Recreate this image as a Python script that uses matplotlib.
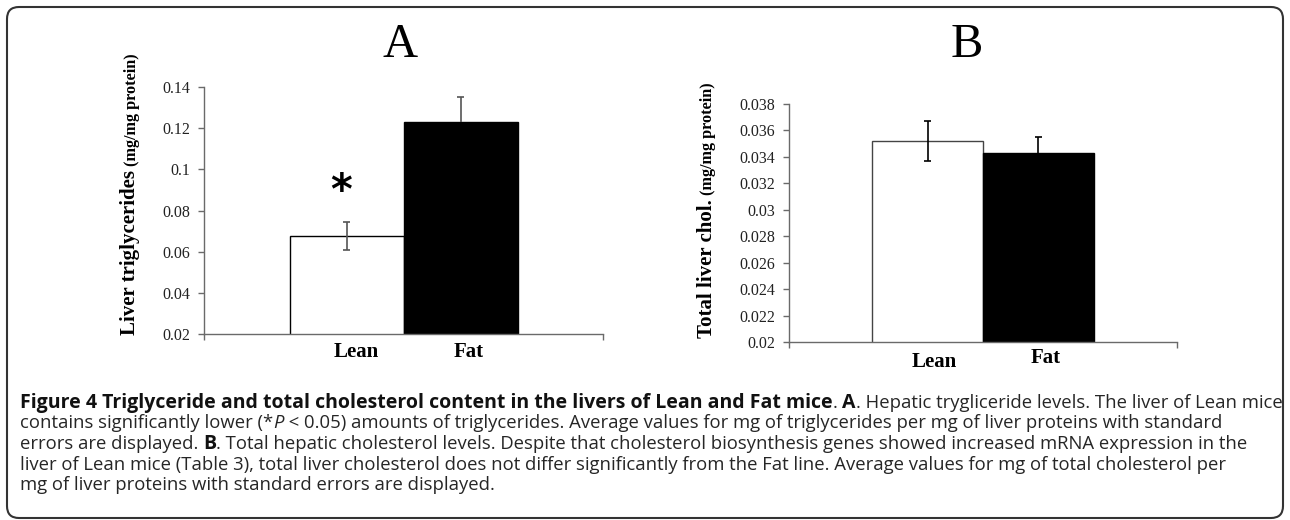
import matplotlib
matplotlib.use("Agg")
import matplotlib.pyplot as plt
from matplotlib.patches import FancyBboxPatch
from matplotlib.transforms import IdentityTransform
from matplotlib.ticker import FuncFormatter

W, H = 1290, 520

# data
groups = ["Lean", "Fat"]
trig_mean = [0.0676, 0.1232]
trig_err_low = [0.0066, 0.0]
trig_err_high = [0.0066, 0.0119]
chol_mean = [0.0352, 0.0343]
chol_err_low = [0.0015, 0.0]
chol_err_high = [0.0015, 0.0012]

trig_ticks = [0.02, 0.04, 0.06, 0.08, 0.10, 0.12, 0.14]
chol_ticks = [0.020, 0.022, 0.024, 0.026, 0.028, 0.030, 0.032, 0.034, 0.036, 0.038]

caption_lines = [
    [("Figure 4 Triglyceride and total cholesterol content in the livers of Lean and Fat mice", "bold"),
     (". ", "normal"), ("A", "bold"), (". Hepatic trygliceride levels. The liver of Lean mice", "normal")],
    [("contains significantly lower (*", "normal"), ("P", "italic"),
     (" < 0.05) amounts of triglycerides. Average values for mg of triglycerides per mg of liver proteins with standard", "normal")],
    [("errors are displayed. ", "normal"), ("B", "bold"),
     (". Total hepatic cholesterol levels. Despite that cholesterol biosynthesis genes showed increased mRNA expression in the", "normal")],
    [("liver of Lean mice (Table 3), total liver cholesterol does not differ significantly from the Fat line. Average values for mg of total cholesterol per", "normal")],
    [("mg of liver proteins with standard errors are displayed.", "normal")],
]
# right end of each caption line in the reference (px)
caption_ends = [1283, 1208, 1244, 1247, 497]

serif = "Liberation Serif"
axis_col = "#6a6a6a"

fig = plt.figure(figsize=(W / 100, H / 100), dpi=100)
fig.patch.set_facecolor("white")


def px_axes(left, right, top, bottom):
    return fig.add_axes([left / W, (H - bottom) / H, (right - left) / W, (bottom - top) / H])


def style_axes(ax, ticks, ylim, xlim):
    ax.set_ylim(*ylim)
    ax.set_xlim(*xlim)
    for s in ["top", "right"]:
        ax.spines[s].set_visible(False)
    for s in ["left", "bottom"]:
        ax.spines[s].set_color(axis_col)
        ax.spines[s].set_linewidth(1.0)
    ax.set_yticks(ticks)
    ax.yaxis.set_major_formatter(FuncFormatter(lambda v, p: "%g" % round(v, 4)))
    ax.set_xticks(list(xlim))
    ax.set_xticklabels([])
    ax.tick_params(axis="y", direction="out", length=4, width=1.0, color=axis_col, pad=6,
                   labelsize=11.5, labelcolor="#222222")
    ax.tick_params(axis="x", direction="out", length=4, width=1.0, color=axis_col)
    for lab in ax.get_yticklabels():
        lab.set_fontfamily(serif)


def err_bars(ax, xs, means, lows, highs, col, cap_half):
    for xi, m, lo, hi in zip(xs, means, lows, highs):
        ax.vlines(xi, m - lo, m + hi, color=col, linewidth=1.2, zorder=3)
        ax.hlines(m + hi, xi - cap_half, xi + cap_half, color=col, linewidth=1.2, zorder=3)
        if lo > 0:
            ax.hlines(m - lo, xi - cap_half, xi + cap_half, color=col, linewidth=1.2, zorder=3)


x = [0, 1]

# ---- panel A
axA = px_axes(204, 603, 87, 334)
axA.bar(x, trig_mean, width=1.0, color=["white", "black"], edgecolor="black", linewidth=1.0, zorder=2)
err_bars(axA, x, trig_mean, trig_err_low, trig_err_high, "#555555", 0.032)
style_axes(axA, trig_ticks, (0.02, 0.14), (-1.25, 2.25))
axA.text(-0.05, 0.0888, "*", fontsize=30, fontweight="bold", family="DejaVu Sans",
         ha="center", va="center")

# ---- panel B
axB = px_axes(789, 1177, 104, 342.3)
axB.bar(x, chol_mean, width=1.0, color=["white", "black"], edgecolor=["#444444", "black"],
        linewidth=1.0, zorder=2)
err_bars(axB, x, chol_mean, chol_err_low, chol_err_high, "black", 0.034)
style_axes(axB, chol_ticks, (0.02, 0.038), (-1.255, 2.255))

# category labels
for ax, offs, dys in [(axA, [0.086, 1.068], [18, 18]), (axB, [0.055, 1.068], [19.4, 15.4])]:
    for name, xo, dy in zip(groups, offs, dys):
        ax.annotate(name, xy=(xo, 0), xycoords=("data", "axes fraction"),
                    xytext=(0, -dy * 0.72), textcoords="offset points",
                    ha="center", va="center", family=serif, fontweight="bold", fontsize=15)

# panel letters
fig.text(400 / W, (H - 57) / H, "A", family=serif, fontsize=35, ha="center", va="baseline")
fig.text(967 / W, (H - 57) / H, "B", family=serif, fontsize=35, ha="center", va="baseline")

fig.canvas.draw()
renderer = fig.canvas.get_renderer()


def ylabel(xbase, ystart, main, unit):
    t = fig.text(xbase / W, (H - ystart) / H, main, rotation=90, rotation_mode="anchor",
                 ha="left", va="baseline", family=serif, fontweight="bold", fontsize=15)
    h = t.get_window_extent(renderer).height
    fig.text(xbase / W, (H - ystart + h + 4) / H, unit, rotation=90, rotation_mode="anchor",
             ha="left", va="baseline", family=serif, fontweight="bold", fontsize=11.7)


ylabel(135.5, 335, "Liver triglycerides", "(mg/mg protein)")
ylabel(711.5, 338, "Total liver chol.", "(mg/mg protein)")


# ---- caption
cap_font = "Open Sans"


def props(style, size):
    p = dict(family=cap_font, fontsize=size, color="#262626")
    if style == "bold":
        p["fontweight"] = "bold"
        p["color"] = "#111111"
    elif style == "italic":
        p["fontstyle"] = "italic"
    return p


def piece_width(s, style, size):
    a = fig.text(0, 0, "|" + s + "|", **props(style, size))
    b = fig.text(0, 0, "||", **props(style, size))
    w = a.get_window_extent(renderer).width - b.get_window_extent(renderer).width
    a.remove()
    b.remove()
    return w


# size of regular text: fit lines 2-5 to their reference ends
nat = sum(piece_width(s, st, 10) for line in caption_lines[1:] for s, st in line)
want = sum(e - 20 for e in caption_ends[1:])
reg_size = 10 * want / nat
# size of bold text: fit line 1
reg_part = sum(piece_width(s, st, reg_size) for s, st in caption_lines[0] if st != "bold")
bold_part = sum(piece_width(s, st, 10) for s, st in caption_lines[0] if st == "bold")
bold_size = 10 * (caption_ends[0] - 20 - reg_part) / bold_part

for i, line in enumerate(caption_lines):
    xpos = 20
    ybase = 408 + i * 20.5
    for s, st in line:
        size = bold_size if st == "bold" else reg_size
        fig.text(xpos / W, (H - ybase) / H, s, ha="left", va="baseline", **props(st, size))
        xpos += piece_width(s, st, size)

# frame
frame = FancyBboxPatch((7, 2), 1276, 511, boxstyle="round,pad=0,rounding_size=12",
                       transform=IdentityTransform(), fill=False, edgecolor="#333333", linewidth=1.5)
fig.patches.append(frame)

fig.savefig("out.png", dpi=100, facecolor="white")
